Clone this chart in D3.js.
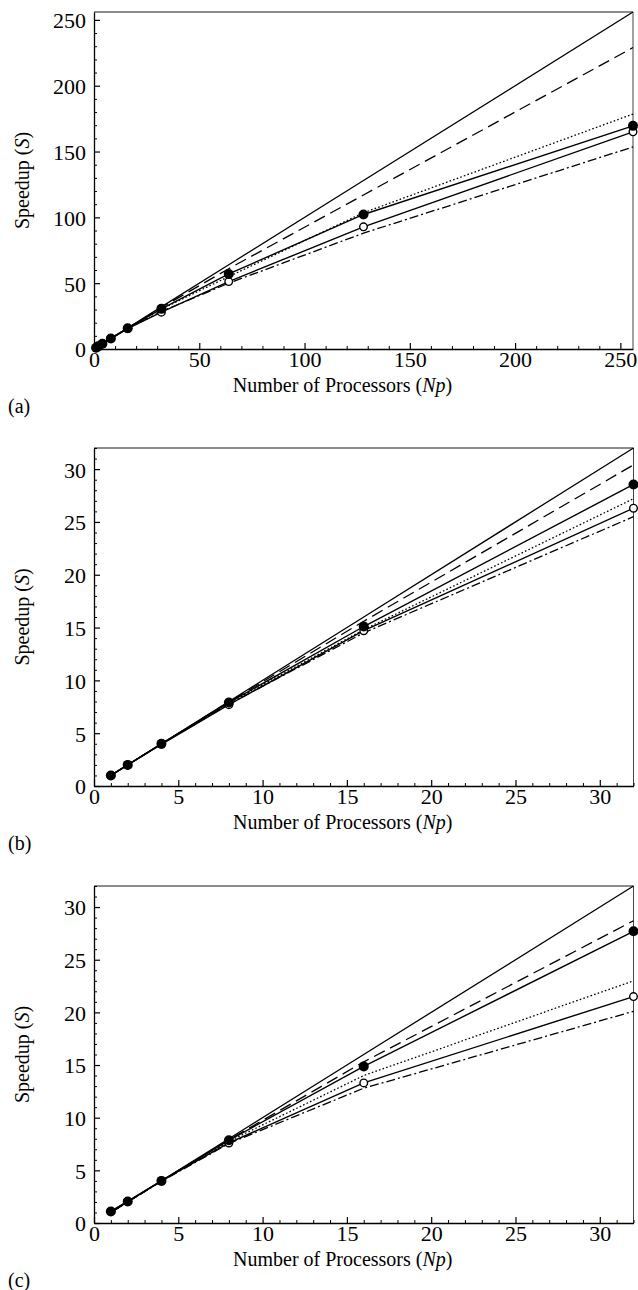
<!DOCTYPE html>
<html><head><meta charset="utf-8">
<script src="https://cdn.jsdelivr.net/npm/d3@7"></script>
<style>
body{margin:0;background:#fff;}
svg{display:block;}
text{font-family:"Liberation Serif","Times New Roman",serif;fill:#000;}
</style></head>
<body>
<svg id="chart" width="638" height="1290"></svg>
<script>
// ---- Panel (a) data ----
const npA = [1, 2, 4, 8, 16, 32, 64, 128, 256];
const idealA = [1, 2, 4, 8, 16, 32, 64, 128, 256];
const dashedA = [1, 2, 4, 8, 15.9, 31.5, 61, 117, 229];
const dottedA = [1, 2, 4, 8, 15.8, 30.3, 55, 103.5, 178.5];
const dashdotA = [1, 2, 4, 7.9, 15.6, 28.5, 50, 88, 153.5];
const filledA = [1, 2, 4, 8, 15.8, 30.5, 57, 102.2, 169.5];
const openA = [1, 2, 4, 7.9, 15.5, 28, 51.2, 92.8, 165];
const xTicksA = [0, 50, 100, 150, 200, 250];
const yTicksA = [0, 50, 100, 150, 200, 250];

// ---- Panel (b) data ----
const npB = [1, 2, 4, 8, 16, 32];
const idealB = [1, 2, 4, 8, 16, 32];
const dashedB = [1, 2, 4, 7.95, 15.6, 30.4];
const dottedB = [1, 2, 4, 7.85, 14.8, 27.2];
const dashdotB = [1, 2, 4, 7.75, 14.5, 25.5];
const filledB = [1, 2, 4, 7.9, 15.1, 28.55];
const openB = [1, 2, 3.95, 7.7, 14.7, 26.3];
const xTicksB = [0, 5, 10, 15, 20, 25, 30];
const yTicksB = [0, 5, 10, 15, 20, 25, 30];

// ---- Panel (c) data ----
const npC = [1, 2, 4, 8, 16, 32];
const idealC = [1, 2, 4, 8, 16, 32];
const dashedC = [1, 2, 4, 7.9, 15.3, 28.7];
const dottedC = [1, 2, 4, 7.75, 14.0, 23.0];
const dashdotC = [1, 2, 3.95, 7.55, 12.8, 20.1];
const filledC = [1.1, 2.05, 4, 7.85, 14.87, 27.7];
const openC = [1.1, 2.05, 4, 7.6, 13.3, 21.5];
const xTicksC = [0, 5, 10, 15, 20, 25, 30];
const yTicksC = [0, 5, 10, 15, 20, 25, 30];

const panelLabels = ["(a)", "(b)", "(c)"];
const xTitle = ["Number of Processors (", "Np", ")"];
const yTitle = ["Speedup (", "S", ")"];

const svg = d3.select("#chart");

function drawPanel(cfg) {
  const {left, right, top, bottom, max, minorStep, np, series, xTicks, yTicks, label} = cfg;
  const x = d3.scaleLinear().domain([0, max]).range([left, right]);
  const y = d3.scaleLinear().domain([0, max]).range([bottom, top]);
  const g = svg.append("g");

  // frame
  g.append("line").attr("x1", left).attr("x2", right).attr("y1", top).attr("y2", top)
    .attr("stroke", "#666").attr("stroke-width", 1.5);
  g.append("line").attr("x1", right).attr("x2", right).attr("y1", top).attr("y2", bottom)
    .attr("stroke", "#444").attr("stroke-width", 1);

  const minor = d3.range(0, max + 1e-9, minorStep).filter(v => !xTicks.includes(v));

  // minor ticks
  g.append("g").attr("transform", `translate(0,${bottom})`)
    .call(d3.axisBottom(x).tickValues(minor).tickSizeInner(-3).tickSizeOuter(0).tickFormat(""))
    .call(s => s.select(".domain").remove())
    .selectAll("line").attr("stroke", "#000");
  g.append("g").attr("transform", `translate(${left},0)`)
    .call(d3.axisLeft(y).tickValues(minor).tickSizeInner(-3).tickSizeOuter(0).tickFormat(""))
    .call(s => s.select(".domain").remove())
    .selectAll("line").attr("stroke", "#000");

  // major axes
  const xa = g.append("g").attr("transform", `translate(0,${bottom})`)
    .call(d3.axisBottom(x).tickValues(xTicks).tickSizeInner(-6).tickSizeOuter(0).tickPadding(5));
  const ya = g.append("g").attr("transform", `translate(${left},0)`)
    .call(d3.axisLeft(y).tickValues(yTicks).tickSizeInner(-6).tickSizeOuter(0).tickPadding(8));
  [xa, ya].forEach(a => {
    a.select(".domain").attr("stroke", "#000").attr("stroke-width", 1.3);
    a.selectAll("line").attr("stroke", "#000").attr("stroke-width", 1.2);
    a.selectAll("text").attr("font-family", "Liberation Serif").attr("font-size", 22).attr("fill", "#000");
  });
  xa.selectAll("text").attr("dy", "0.61em");
  ya.selectAll("text").attr("dy", "0.36em");

  // titles
  const xt = g.append("text").attr("x", (left + right) / 2 - 21).attr("y", bottom + 43)
    .attr("text-anchor", "middle").attr("font-size", 20);
  xt.append("tspan").text(xTitle[0]);
  xt.append("tspan").attr("font-style", "italic").text(xTitle[1]);
  xt.append("tspan").text(xTitle[2]);

  const yt = g.append("text").attr("transform", `translate(29,${(top + bottom) / 2}) rotate(-90)`)
    .attr("text-anchor", "middle").attr("font-size", 20);
  yt.append("tspan").text(yTitle[0]);
  yt.append("tspan").attr("font-style", "italic").text(yTitle[1]);
  yt.append("tspan").text(yTitle[2]);

  g.append("text").attr("x", 8).attr("y", bottom + 64).attr("font-size", 20).text(label);

  const line = d3.line().x(d => x(d[0])).y(d => y(d[1]));
  const pts = vals => np.map((n, i) => [n, vals[i]]);

  // model lines
  const styles = [
    {vals: series.ideal, dash: null},
    {vals: series.dashed, dash: "12,6"},
    {vals: series.dotted, dash: "1.6,2.2"},
    {vals: series.dashdot, dash: "9,3,2,3"}
  ];
  styles.forEach(s => {
    g.append("path").datum(pts(s.vals)).attr("d", line)
      .attr("fill", "none").attr("stroke", "#000").attr("stroke-width", 1.3)
      .attr("stroke-dasharray", s.dash);
  });

  // open-circle series
  g.append("path").datum(pts(series.open)).attr("d", line)
    .attr("fill", "none").attr("stroke", "#000").attr("stroke-width", 1.4);
  g.selectAll(null).data(pts(series.open)).join("circle")
    .attr("cx", d => x(d[0])).attr("cy", d => y(d[1])).attr("r", 3.8)
    .attr("fill", "#fff").attr("stroke", "#000").attr("stroke-width", 1.4);

  // filled-circle series
  g.append("path").datum(pts(series.filled)).attr("d", line)
    .attr("fill", "none").attr("stroke", "#000").attr("stroke-width", 1.4);
  g.selectAll(null).data(pts(series.filled)).join("circle")
    .attr("cx", d => x(d[0])).attr("cy", d => y(d[1])).attr("r", 5)
    .attr("fill", "#000");
}

drawPanel({left: 94, right: 633, top: 12, bottom: 349, max: 256, minorStep: 10,
  np: npA, series: {ideal: idealA, dashed: dashedA, dotted: dottedA, dashdot: dashdotA, filled: filledA, open: openA},
  xTicks: xTicksA, yTicks: yTicksA, label: panelLabels[0]});
drawPanel({left: 94, right: 633.5, top: 448, bottom: 786, max: 32, minorStep: 1,
  np: npB, series: {ideal: idealB, dashed: dashedB, dotted: dottedB, dashdot: dashdotB, filled: filledB, open: openB},
  xTicks: xTicksB, yTicks: yTicksB, label: panelLabels[1]});
drawPanel({left: 94, right: 633.5, top: 886, bottom: 1223, max: 32, minorStep: 1,
  np: npC, series: {ideal: idealC, dashed: dashedC, dotted: dottedC, dashdot: dashdotC, filled: filledC, open: openC},
  xTicks: xTicksC, yTicks: yTicksC, label: panelLabels[2]});
</script>
</body></html>
